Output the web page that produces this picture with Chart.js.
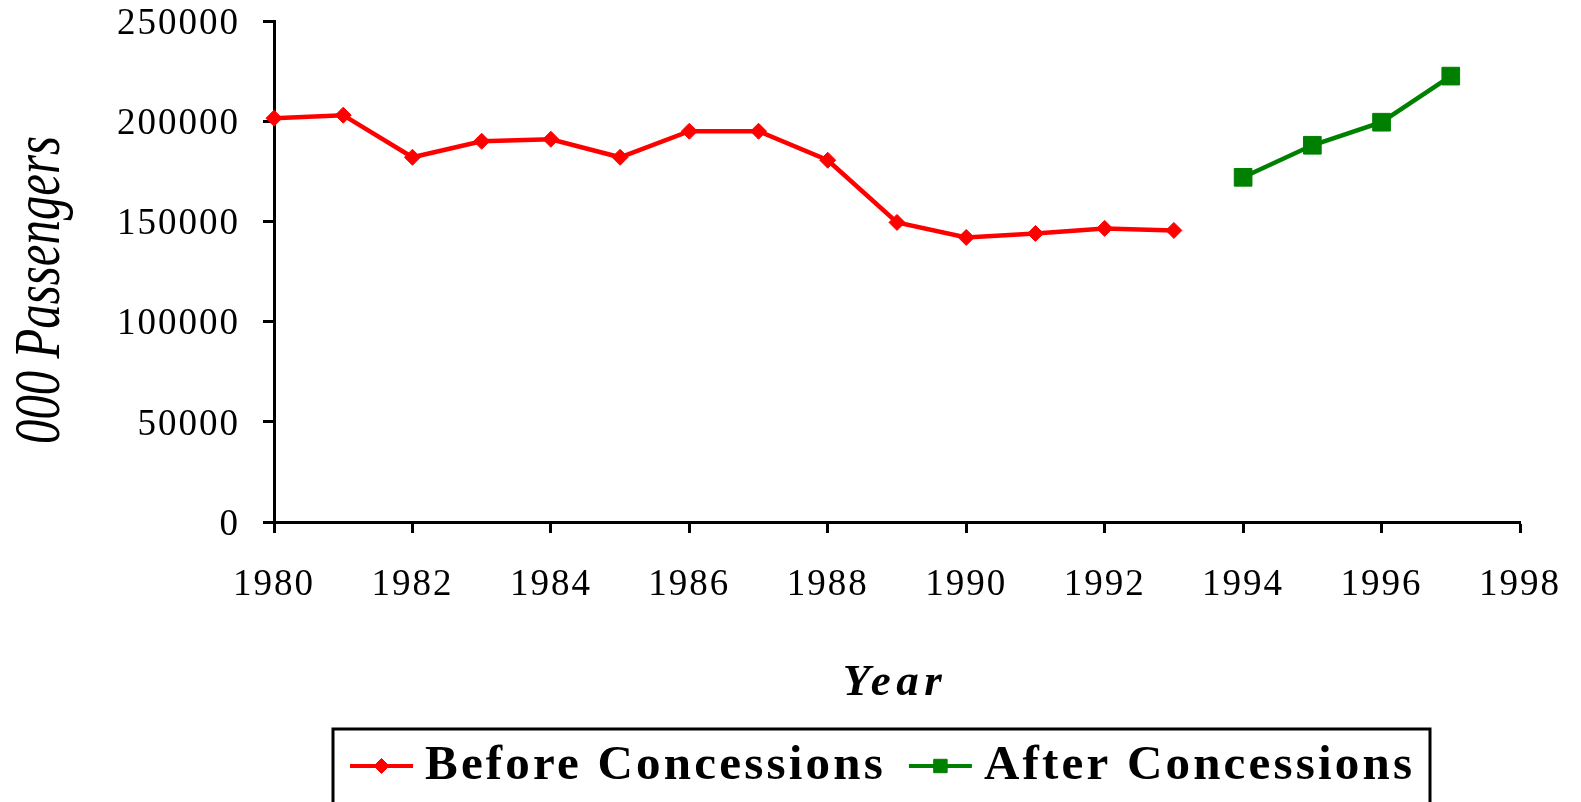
<!DOCTYPE html>
<html>
<head>
<meta charset="utf-8">
<title>Passengers before and after concessions</title>
<script src="https://cdn.jsdelivr.net/npm/chart.js@4.4.1/dist/chart.umd.min.js"></script>
<style>
    html, body { margin: 0; padding: 0; background: #fff; }
    #chart { display: block; }
</style>
</head>
<body>
<canvas id="chart" width="1581" height="802"></canvas>
<script>
// Values ('000 passengers)
const beforeYears = [1980, 1981, 1982, 1983, 1984, 1985, 1986, 1987, 1988, 1989, 1990, 1991, 1992, 1993];
const beforeValues = [201500, 203000, 182000, 190000, 191000, 182000, 195000, 195000, 180500, 149500, 142000, 144000, 146500, 145500];
const afterYears = [1994, 1995, 1996, 1997];
const afterValues = [172000, 188000, 199500, 222500];

const seriesLabels = ['Before Concessions', 'After Concessions'];
const xTickYears = [1980, 1982, 1984, 1986, 1988, 1990, 1992, 1994, 1996, 1998];
const yTickValues = [0, 50000, 100000, 150000, 200000, 250000];

const SERIF = '"Liberation Serif", "Times New Roman", serif';

function toPoints(xs, ys) {
    return xs.map((x, i) => ({ x: x, y: ys[i] }));
}

// Axis titles: rotated, condensed y title and spaced-out x title
const axisTitlePlugin = {
    id: 'axisTitles',
    afterDraw(chart) {
        const ctx = chart.ctx;
        const area = chart.chartArea;
        ctx.save();
        ctx.fillStyle = '#000';
        ctx.textAlign = 'center';
        ctx.textBaseline = 'middle';

        ctx.letterSpacing = '5.5px';
        ctx.font = 'italic bold 45px ' + SERIF;
        ctx.fillText('Year', (area.left + area.right) / 2 - 2, 683);

        ctx.letterSpacing = '0px';
        ctx.translate(42, 290);
        ctx.rotate(-Math.PI / 2);
        ctx.scale(0.74, 1);
        ctx.font = 'italic 66px ' + SERIF;
        ctx.fillText('000 Passengers', 0, 0);
        ctx.restore();
    }
};

// Boxed legend with line + marker symbols
const legendPlugin = {
    id: 'boxLegend',
    afterDraw(chart) {
        const ctx = chart.ctx;
        const cy = 766;
        ctx.save();
        ctx.strokeStyle = '#000';
        ctx.lineWidth = 3;
        ctx.strokeRect(333, 729, 1097, 120);

        ctx.font = 'bold 49px ' + SERIF;
        ctx.letterSpacing = '3.2px';
        ctx.textBaseline = 'middle';
        ctx.textAlign = 'left';
        let x = 350;
        chart.data.datasets.forEach(ds => {
            ctx.strokeStyle = ds.borderColor;
            ctx.fillStyle = ds.borderColor;
            ctx.lineWidth = 4;
            ctx.beginPath();
            ctx.moveTo(x, cy);
            ctx.lineTo(x + 63, cy);
            ctx.stroke();
            ctx.lineWidth = 1;
            Chart.helpers.drawPoint(ctx, {
                pointStyle: ds.pointStyle,
                radius: ds.pointStyle === 'rect' ? 9.5 : 7.5,
                rotation: 0,
                borderWidth: 1
            }, x + 31.5, cy);
            ctx.fillStyle = '#000';
            ctx.fillText(ds.label, x + 75, cy);
            x += 75 + ctx.measureText(ds.label).width + 23;
        });
        ctx.restore();
    }
};

const spacingPlugin = {
    id: 'spacing',
    beforeDraw(chart) {
        chart.ctx.letterSpacing = '2px';
    }
};

new Chart(document.getElementById('chart'), {
    type: 'line',
    data: {
        datasets: [{
            label: seriesLabels[0],
            data: toPoints(beforeYears, beforeValues),
            borderColor: '#FF0000',
            backgroundColor: '#FF0000',
            borderWidth: 4.5,
            pointStyle: 'rectRot',
            pointRadius: 8,
            pointBackgroundColor: '#FF0000',
            pointBorderColor: '#FF0000',
            pointBorderWidth: 1,
            tension: 0,
            clip: false
        }, {
            label: seriesLabels[1],
            data: toPoints(afterYears, afterValues),
            borderColor: '#008000',
            backgroundColor: '#008000',
            borderWidth: 4.5,
            pointStyle: 'rect',
            pointRadius: 12.5,
            pointBackgroundColor: '#008000',
            pointBorderColor: '#008000',
            pointBorderWidth: 1,
            tension: 0,
            clip: false
        }]
    },
    options: {
        responsive: false,
        animation: false,
        devicePixelRatio: 1,
        layout: { padding: { top: 21, right: 61, bottom: 95, left: 0 } },
        plugins: {
            legend: { display: false },
            tooltip: { enabled: false }
        },
        scales: {
            x: {
                type: 'linear',
                min: 1980,
                max: 1998,
                afterBuildTicks: s => { s.ticks = xTickYears.map(v => ({ value: v })); },
                afterFit: s => {
                    s.height = 185;
                    s.paddingLeft = 0;
                    s.paddingRight = 0;
                },
                border: { color: '#000', width: 3 },
                grid: { drawOnChartArea: false, drawTicks: true, tickLength: 11, tickColor: '#000', tickWidth: 3 },
                ticks: {
                    color: '#000',
                    padding: 30,
                    maxRotation: 0,
                    autoSkip: false,
                    font: { family: SERIF, size: 37 },
                    callback: v => String(v)
                }
            },
            y: {
                min: 0,
                max: 250000,
                afterBuildTicks: s => { s.ticks = yTickValues.map(v => ({ value: v })); },
                afterFit: s => {
                    s.width = 274;
                    s.paddingTop = 0;
                    s.paddingBottom = 0;
                },
                border: { color: '#000', width: 3 },
                grid: { drawOnChartArea: false, drawTicks: true, tickLength: 11, tickColor: '#000', tickWidth: 3 },
                ticks: {
                    color: '#000',
                    padding: 23,
                    labelOffset: 3,
                    font: { family: SERIF, size: 37 },
                    callback: v => String(v)
                }
            }
        }
    },
    plugins: [spacingPlugin, axisTitlePlugin, legendPlugin]
});
</script>
</body>
</html>
